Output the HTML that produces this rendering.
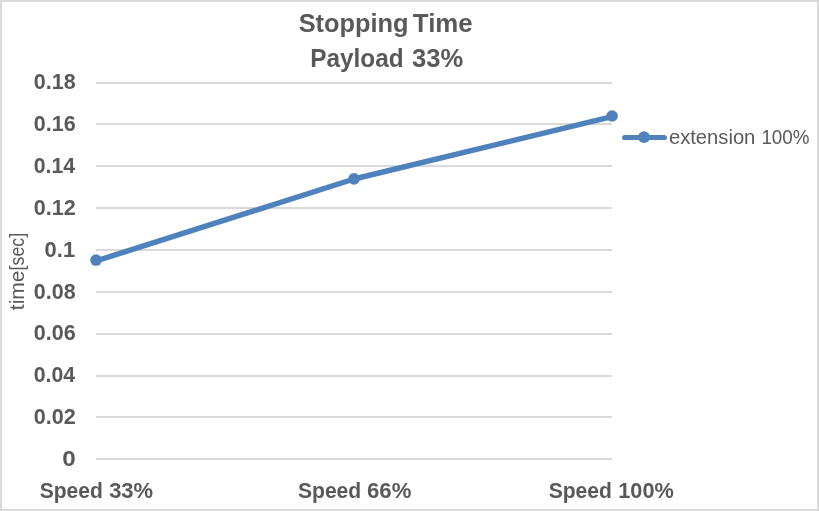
<!DOCTYPE html>
<html>
<head>
<meta charset="utf-8">
<title>Stopping Time Payload 33%</title>
<style>
html,body{margin:0;padding:0;background:#fff;}
body{width:819px;height:511px;overflow:hidden;}
svg{display:block;}
text{font-family:"Liberation Sans","DejaVu Sans",sans-serif;fill:#595959;white-space:pre;}
.b{font-weight:bold;}
</style>
</head>
<body>
<svg width="819" height="511" viewBox="0 0 819 511">
  <rect x="0" y="0" width="819" height="511" fill="#ffffff"/>
  <rect x="1" y="1" width="817" height="509" fill="none" stroke="#D9D9D9" stroke-width="2"/>

  <!-- gridlines -->
  <g stroke="#D9D9D9" stroke-width="2" fill="none">
    <line x1="96" x2="612" y1="83" y2="83"/>
    <line x1="96" x2="612" y1="124" y2="124"/>
    <line x1="96" x2="612" y1="166" y2="166"/>
    <line x1="96" x2="612" y1="208" y2="208"/>
    <line x1="96" x2="612" y1="250" y2="250"/>
    <line x1="96" x2="612" y1="292" y2="292"/>
    <line x1="96" x2="612" y1="334" y2="334"/>
    <line x1="96" x2="612" y1="376" y2="376"/>
    <line x1="96" x2="612" y1="417" y2="417"/>
    <line x1="96" x2="612" y1="459" y2="459"/>
  </g>

  <!-- chart title -->
  <text class="b" y="32" font-size="25.2"><tspan x="298.67" textLength="109.76" lengthAdjust="spacingAndGlyphs">Stopping</tspan> <tspan x="412.84" textLength="59.90" lengthAdjust="spacingAndGlyphs">Time</tspan></text>
  <text class="b" y="67" font-size="25.2"><tspan x="310.23" textLength="93.46" lengthAdjust="spacingAndGlyphs">Payload</tspan> <tspan x="412.09" textLength="51.19" lengthAdjust="spacingAndGlyphs">33%</tspan></text>

  <!-- value axis labels -->
  <g class="b" font-size="22.6">
    <text y="89.0"><tspan x="33.87" textLength="41.85" lengthAdjust="spacingAndGlyphs">0.18</tspan></text>
    <text y="131.0"><tspan x="33.87" textLength="41.85" lengthAdjust="spacingAndGlyphs">0.16</tspan></text>
    <text y="173.0"><tspan x="33.71" textLength="41.44" lengthAdjust="spacingAndGlyphs">0.14</tspan></text>
    <text y="215.0"><tspan x="33.82" textLength="42.03" lengthAdjust="spacingAndGlyphs">0.12</tspan></text>
    <text y="257.0"><tspan x="44.57" textLength="30.54" lengthAdjust="spacingAndGlyphs">0.1</tspan></text>
    <text y="299.0"><tspan x="33.87" textLength="41.85" lengthAdjust="spacingAndGlyphs">0.08</tspan></text>
    <text y="340.0"><tspan x="33.87" textLength="41.85" lengthAdjust="spacingAndGlyphs">0.06</tspan></text>
    <text y="382.0"><tspan x="33.71" textLength="41.44" lengthAdjust="spacingAndGlyphs">0.04</tspan></text>
    <text y="424.0"><tspan x="33.82" textLength="42.03" lengthAdjust="spacingAndGlyphs">0.02</tspan></text>
    <text y="466.0"><tspan x="62.38" textLength="13.49" lengthAdjust="spacingAndGlyphs">0</tspan></text>
  </g>

  <!-- category axis labels -->
  <g class="b" font-size="22.2">
    <text y="498"><tspan x="39.67" textLength="63.16" lengthAdjust="spacingAndGlyphs">Speed</tspan> <tspan x="109.15" textLength="43.99" lengthAdjust="spacingAndGlyphs">33%</tspan></text>
    <text y="498"><tspan x="297.91" textLength="63.35" lengthAdjust="spacingAndGlyphs">Speed</tspan> <tspan x="367.01" textLength="44.33" lengthAdjust="spacingAndGlyphs">66%</tspan></text>
    <text y="498"><tspan x="548.66" textLength="63.23" lengthAdjust="spacingAndGlyphs">Speed</tspan> <tspan x="618.30" textLength="55.52" lengthAdjust="spacingAndGlyphs">100%</tspan></text>
  </g>

  <!-- value axis title -->
  <text transform="translate(24 310.2) rotate(-90)" font-size="19.6"><tspan textLength="39.8" lengthAdjust="spacingAndGlyphs">time</tspan><tspan textLength="37.5" lengthAdjust="spacingAndGlyphs">[sec]</tspan></text>

  <!-- series -->
  <polyline points="96,261 354,179 612,116.6" fill="none" stroke="#4F81BD" stroke-width="5.5" stroke-linecap="round" stroke-linejoin="round"/>
  <g fill="#4F81BD">
    <circle cx="96" cy="260.05" r="5.8"/>
    <circle cx="354" cy="178.9" r="5.8"/>
    <circle cx="612.1" cy="116" r="5.8"/>
  </g>

  <!-- legend -->
  <line x1="624.7" x2="664.3" y1="137.5" y2="137.5" stroke="#4F81BD" stroke-width="5.2" stroke-linecap="round"/>
  <circle cx="644" cy="137.2" r="5.9" fill="#4F81BD"/>
  <text y="144" font-size="19.8"><tspan x="668.93" textLength="86.43" lengthAdjust="spacingAndGlyphs">extension</tspan> <tspan x="761.39" textLength="48.12" lengthAdjust="spacingAndGlyphs">100%</tspan></text>
</svg>
</body>
</html>
